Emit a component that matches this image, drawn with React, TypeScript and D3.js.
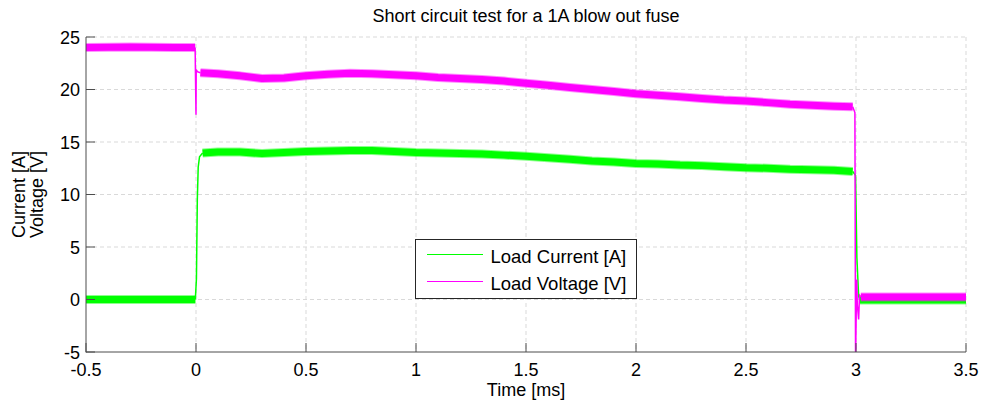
import React from "react";
import * as d3 from "d3";

// ---- Data (time in ms) ----
const xTicks = [-0.5, 0, 0.5, 1, 1.5, 2, 2.5, 3, 3.5];
const xTickLabels = ["-0.5", "0", "0.5", "1", "1.5", "2", "2.5", "3", "3.5"];
const yTicks = [-5, 0, 5, 10, 15, 20, 25];
const yTickLabels = ["-5", "0", "5", "10", "15", "20", "25"];

// Load voltage: steady (noisy band) segments
const voltPreT = [-0.5, -0.3, -0.1, -0.004];
const voltPreV = [24.0, 24.05, 24.0, 24.0];
const voltOnT = [0.02, 0.1, 0.2, 0.3, 0.4, 0.5, 0.6, 0.7, 0.8, 0.9, 1.0, 1.1, 1.2, 1.3, 1.4, 1.5, 1.6, 1.7, 1.8, 1.9, 2.0, 2.1, 2.2, 2.3, 2.4, 2.5, 2.6, 2.7, 2.8, 2.9, 2.985];
const voltOnV = [21.6, 21.5, 21.3, 21.05, 21.1, 21.3, 21.45, 21.55, 21.5, 21.4, 21.3, 21.15, 21.05, 20.95, 20.8, 20.6, 20.4, 20.2, 20.0, 19.8, 19.6, 19.45, 19.3, 19.15, 19.0, 18.9, 18.75, 18.6, 18.5, 18.4, 18.35];
const voltPostT = [3.022, 3.2, 3.5];
const voltPostV = [0.25, 0.25, 0.25];
// Load voltage: transients
const voltStepT = [-0.004, 0.0, 0.001, 0.006, 0.02];
const voltStepV = [24.0, 17.6, 21.9, 21.7, 21.6];
const voltDropT = [2.985, 2.995, 2.998, 3.003, 3.006, 3.012, 3.016, 3.022];
const voltDropV = [18.35, 17.8, -6, 1.9, -0.5, -1.9, 0.4, 0.25];

// Load current: steady segments
const currPreT = [-0.5, -0.3, -0.1, -0.003];
const currPreV = [0.0, 0.0, 0.0, 0.0];
const currOnT = [0.03, 0.1, 0.2, 0.3, 0.4, 0.5, 0.6, 0.7, 0.8, 0.9, 1.0, 1.1, 1.2, 1.3, 1.4, 1.5, 1.6, 1.7, 1.8, 1.9, 2.0, 2.1, 2.2, 2.3, 2.4, 2.5, 2.6, 2.7, 2.8, 2.9, 2.985];
const currOnV = [13.95, 14.05, 14.05, 13.9, 14.0, 14.1, 14.15, 14.2, 14.2, 14.1, 14.0, 13.95, 13.9, 13.85, 13.75, 13.65, 13.5, 13.35, 13.2, 13.1, 12.95, 12.9, 12.8, 12.75, 12.65, 12.55, 12.5, 12.4, 12.35, 12.3, 12.2];
const currPostT = [3.018, 3.2, 3.5];
const currPostV = [-0.05, -0.05, -0.05];
// Load current: transients
const currStepT = [-0.003, 0.002, 0.006, 0.01, 0.016, 0.03];
const currStepV = [0.0, 2.0, 9.5, 12.6, 13.6, 13.95];
const currDropT = [2.985, 2.998, 3.004, 3.012, 3.018];
const currDropV = [12.2, 11.8, 4.0, 0.3, -0.05];

const legendLabels = ["Load Current [A]", "Load Voltage [V]"];

const GREEN = "#00ff00";
const MAGENTA = "#ff00ff";
const FONT = "'Liberation Sans', Arial, sans-serif";

const zip = (t: number[], v: number[]) => t.map((d, i) => [d, v[i]] as [number, number]);

export default function App() {
  const W = 981, H = 405;
  const left = 86, right = 966, top = 37, bottom = 352;
  const x = d3.scaleLinear().domain([-0.5, 3.5]).range([left, right]);
  const y = d3.scaleLinear().domain([-5, 25]).range([bottom, top]);
  const line = d3.line<[number, number]>().x(d => x(d[0])).y(d => y(d[1]));

  const band = (t: number[], v: number[], color: string, key: string) => (
    <g key={key}>
      <path d={line(zip(t, v)) || ""} fill="none" stroke={color} strokeWidth={9} strokeOpacity={0.45} strokeLinejoin="round" />
      <path d={line(zip(t, v)) || ""} fill="none" stroke={color} strokeWidth={7} strokeLinejoin="round" />
    </g>
  );
  const trace = (t: number[], v: number[], color: string, key: string) => (
    <path key={key} d={line(zip(t, v)) || ""} fill="none" stroke={color} strokeWidth={1.5} />
  );

  return (
    <svg width={W} height={H} style={{ position: "absolute", left: 0, top: 0, background: "#fff" }} fontFamily={FONT}>
      <defs>
        <clipPath id="plotclip">
          <rect x={left} y={top} width={right - left} height={bottom - top} />
        </clipPath>
      </defs>
      <rect x={0} y={0} width={W} height={H} fill="#fff" />
      {/* grid */}
      <g stroke="#d9d9d9" strokeWidth={1} strokeDasharray="4,3">
        {xTicks.slice(1).map((t, i) => (
          <line key={"gx" + i} x1={x(t)} x2={x(t)} y1={top} y2={bottom} />
        ))}
        {yTicks.slice(1).map((t, i) => (
          <line key={"gy" + i} x1={left} x2={right} y1={y(t)} y2={y(t)} />
        ))}
      </g>
      {/* data */}
      <g clipPath="url(#plotclip)">
        {band(voltPreT, voltPreV, MAGENTA, "vp")}
        {band(voltOnT, voltOnV, MAGENTA, "vo")}
        {band(currPreT, currPreV, GREEN, "cp")}
        {band(currOnT, currOnV, GREEN, "co")}
        {band(currPostT, currPostV, GREEN, "cq")}
        {band(voltPostT, voltPostV, MAGENTA, "vq")}
        {trace(currStepT, currStepV, GREEN, "cs")}
        {trace(currDropT, currDropV, GREEN, "cd")}
        {trace(voltStepT, voltStepV, MAGENTA, "vs")}
        {trace(voltDropT, voltDropV, MAGENTA, "vd")}
      </g>
      {/* axes */}
      <g stroke="#4d4d4d" strokeWidth={1}>
        <line x1={left} x2={left} y1={top} y2={bottom + 0.5} />
        <line x1={left} x2={right} y1={bottom} y2={bottom} />
        {xTicks.map((t, i) => (
          <line key={"tx" + i} x1={x(t)} x2={x(t)} y1={bottom} y2={bottom - 9} />
        ))}
        {yTicks.map((t, i) => (
          <line key={"ty" + i} x1={left} x2={left + 9} y1={y(t)} y2={y(t)} />
        ))}
      </g>
      <g fontSize={18} fill="#000">
        {xTicks.map((t, i) => (
          <text key={"lx" + i} x={x(t)} y={bottom + 23.5} textAnchor="middle">{xTickLabels[i]}</text>
        ))}
        {yTicks.map((t, i) => (
          <text key={"ly" + i} x={left - 6} y={y(t) + 6.5} textAnchor="end">{yTickLabels[i]}</text>
        ))}
        <text x={(left + right) / 2} y={396} textAnchor="middle">Time [ms]</text>
        <text transform={`translate(25,${(top + bottom) / 2}) rotate(-90)`} textAnchor="middle">Current [A]</text>
        <text transform={`translate(42.5,${(top + bottom) / 2}) rotate(-90)`} textAnchor="middle">Voltage [V]</text>
      </g>
      <text x={(left + right) / 2} y={22} textAnchor="middle" fontSize={18} fill="#000">
        Short circuit test for a 1A blow out fuse
      </text>
      {/* legend */}
      <g>
        <rect x={415.5} y={239.5} width={221} height={59} fill="#fff" stroke="#262626" strokeWidth={1} />
        <line x1={427} x2={483} y1={254.5} y2={254.5} stroke={GREEN} strokeWidth={1} />
        <line x1={427} x2={483} y1={281.5} y2={281.5} stroke={MAGENTA} strokeWidth={1} />
        <text x={490.5} y={262.5} fontSize={18.5} fill="#000">{legendLabels[0]}</text>
        <text x={490.5} y={289.5} fontSize={18.5} fill="#000">{legendLabels[1]}</text>
      </g>
    </svg>
  );
}
